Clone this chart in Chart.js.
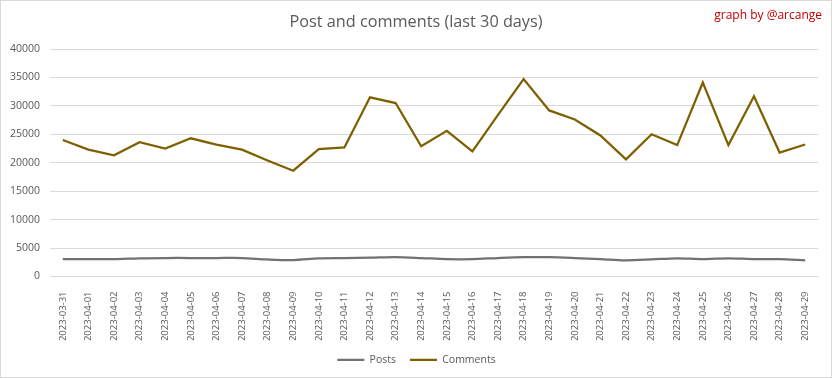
<!DOCTYPE html>
<html>

<head>
    <meta charset="utf-8">
    <title>Post and comments</title>
    <script src="https://cdn.jsdelivr.net/npm/chart.js@4.4.0/dist/chart.umd.min.js"></script>
    <style>
        html, body { margin: 0; padding: 0; background: #ffffff; }
        #wrap { width: 830px; height: 376px; border: 1px solid #d9d9d9; position: relative; }
    </style>
</head>

<body>
    <div id="wrap">
        <canvas id="myChart" width="830" height="376"></canvas>
    </div>
    <script>
        // data
        const days = [
            '2023-03-31', '2023-04-01', '2023-04-02', '2023-04-03', '2023-04-04',
            '2023-04-05', '2023-04-06', '2023-04-07', '2023-04-08', '2023-04-09',
            '2023-04-10', '2023-04-11', '2023-04-12', '2023-04-13', '2023-04-14',
            '2023-04-15', '2023-04-16', '2023-04-17', '2023-04-18', '2023-04-19',
            '2023-04-20', '2023-04-21', '2023-04-22', '2023-04-23', '2023-04-24',
            '2023-04-25', '2023-04-26', '2023-04-27', '2023-04-28', '2023-04-29'
        ];
        const posts = [
            3050, 3050, 3050, 3200, 3250, 3250, 3250, 3250, 3000, 2900,
            3200, 3250, 3300, 3400, 3250, 3050, 3050, 3250, 3400, 3400,
            3250, 3050, 2850, 3000, 3200, 3050, 3200, 3050, 3050, 2850
        ];
        const comments = [
            24000, 22300, 21300, 23600, 22500, 24300, 23200, 22300, 20400, 18600,
            22400, 22700, 31500, 30500, 22900, 25600, 22000, 28400, 34700, 29200,
            27600, 24800, 20600, 25000, 23100, 34100, 23100, 31700, 21800, 23200
        ];
        const yTicks = [0, 5000, 10000, 15000, 20000, 25000, 30000, 35000, 40000];

        const FONT = '"Open Sans", sans-serif';
        const TITLE = 'Post and comments (last 30 days)';
        const CREDIT = 'graph by @arcange';

        // title centred on the whole canvas + credit at top right
        const header = {
            id: 'header',
            afterLayout(chart) {
                // legend is centred on the whole width, not on the padded box
                chart.legend.left += 7;
                chart.legend.right += 7;
            },
            afterDraw(chart) {
                const c = chart.ctx;
                c.save();
                c.textBaseline = 'middle';
                c.font = '16.25px ' + FONT;
                c.fillStyle = '#595959';
                c.textAlign = 'center';
                c.fillText(TITLE, chart.width / 2, 21);
                c.font = '12px ' + FONT;
                c.fillStyle = '#c00000';
                c.textAlign = 'right';
                c.fillText(CREDIT, 821, 15);
                c.restore();
            }
        };

        const config = {
            type: 'line',
            data: {
                labels: days,
                datasets: [
                    {
                        label: 'Posts',
                        data: posts,
                        borderColor: '#767171',
                        backgroundColor: '#767171',
                        borderWidth: 2.25,
                        pointRadius: 0,
                        tension: 0.3
                    },
                    {
                        label: 'Comments',
                        data: comments,
                        borderColor: '#7f6000',
                        backgroundColor: '#7f6000',
                        borderWidth: 2.25,
                        pointRadius: 0,
                        tension: 0
                    }
                ]
            },
            options: {
                responsive: false,
                animation: false,
                layout: { padding: { top: 48, right: 13, bottom: 2, left: 0 } },
                plugins: {
                    title: { display: false },
                    legend: {
                        position: 'bottom',
                        labels: {
                            color: '#595959',
                            font: { family: FONT, size: 10.5 },
                            usePointStyle: true,
                            pointStyle: 'line',
                            pointStyleWidth: 27,
                            padding: 14
                        }
                    },
                    tooltip: { enabled: false }
                },
                scales: {
                    x: {
                        offset: true,
                        grid: { display: false },
                        border: { display: false },
                        ticks: {
                            color: '#595959',
                            font: { family: FONT, size: 9.5 },
                            maxRotation: 90,
                            minRotation: 90,
                            autoSkip: false,
                            padding: 7
                        },
                        afterFit(scale) { scale.height = 64; }
                    },
                    y: {
                        min: 0,
                        max: 40000,
                        afterBuildTicks(scale) { scale.ticks = yTicks.map(v => ({ value: v })); },
                        grid: { color: '#d9d9d9', lineWidth: 1, drawTicks: false },
                        border: { display: false },
                        ticks: {
                            color: '#595959',
                            font: { family: FONT, size: 10.5 },
                            padding: 10,
                            callback: v => String(v)
                        },
                        afterFit(scale) { scale.width = 49; }
                    }
                }
            },
            plugins: [header]
        };

        const myChart = new Chart(document.getElementById('myChart'), config);
    </script>
</body>

</html>
